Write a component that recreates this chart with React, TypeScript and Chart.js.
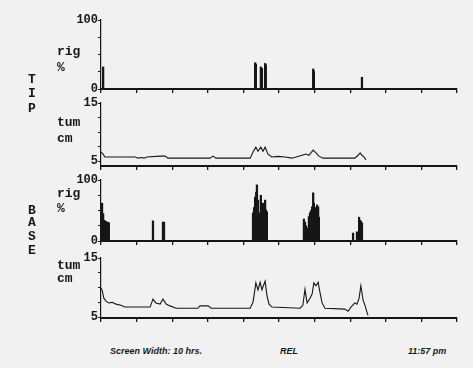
import React, { useEffect, useRef } from "react";
import { Chart, registerables } from "chart.js";
Chart.register(...registerables);

// x positions are hours from the start of the 10 hour screen
const tipRigHours = [0.06, 4.33, 4.35, 4.49, 4.52, 4.61, 4.63, 5.96, 5.98, 7.33];
const tipRigValues = [32, 38, 36, 32, 30, 37, 35, 29, 26, 17];

const tipTumHours = [0, 0.06, 0.11, 0.96, 1.04, 1.12, 1.21, 1.29, 1.66, 1.8, 1.88, 3.06, 3.15, 3.23, 4.19, 4.27, 4.35, 4.41, 4.49, 4.55, 4.61, 4.69, 4.8, 4.97, 5.17, 5.36, 5.65, 5.76, 5.84, 5.96, 6.04, 6.12, 6.24, 7.13, 7.22, 7.28, 7.33, 7.39, 7.44];
const tipTumValues = [6.55, 6.2, 5.7, 5.7, 5.5, 5.6, 5.5, 5.7, 5.85, 5.85, 5.5, 5.5, 5.85, 5.5, 5.5, 6.55, 7.4, 6.7, 7.4, 6.7, 7.4, 6.2, 5.7, 5.8, 5.7, 5.5, 6.0, 6.2, 6.0, 6.9, 6.4, 5.85, 5.5, 5.5, 6.0, 6.4, 6.0, 5.7, 5.2];

const baseRigHours = [0.03, 0.06, 0.08, 0.11, 0.14, 0.17, 0.2, 0.22, 1.46, 1.74, 1.77, 4.27, 4.3, 4.33, 4.36, 4.38, 4.41, 4.44, 4.47, 4.49, 4.52, 4.55, 4.58, 4.61, 4.63, 4.66, 5.7, 5.73, 5.76, 5.79, 5.84, 5.87, 5.9, 5.93, 5.96, 5.98, 6.01, 6.04, 6.07, 6.1, 6.12, 7.08, 7.19, 7.25, 7.28, 7.3, 7.33];
const baseRigValues = [62, 45, 34, 33, 32, 31, 30, 30, 33, 31, 31, 46, 55, 72, 80, 92, 67, 46, 34, 75, 51, 62, 58, 67, 51, 48, 36, 31, 25, 21, 40, 46, 50, 56, 79, 62, 55, 51, 59, 56, 39, 13, 15, 39, 34, 32, 30];

const baseTumHours = [0, 0.03, 0.08, 0.14, 0.22, 0.31, 0.42, 0.56, 0.67, 1.38, 1.46, 1.54, 1.66, 1.74, 1.83, 1.94, 2.11, 2.72, 2.78, 3.01, 3.09, 4.19, 4.27, 4.35, 4.41, 4.47, 4.52, 4.61, 4.66, 4.72, 4.8, 5.59, 5.67, 5.73, 5.79, 5.87, 5.93, 5.98, 6.04, 6.1, 6.15, 6.21, 6.29, 6.85, 6.94, 7.02, 7.13, 7.19, 7.25, 7.3, 7.36, 7.42, 7.47, 7.5];
const baseTumValues = [9.9, 9.6, 8.2, 7.7, 7.4, 7.5, 7.2, 7.0, 6.7, 6.7, 8.05, 7.4, 7.2, 8.05, 7.2, 6.9, 6.5, 6.5, 6.9, 6.9, 6.5, 6.5, 7.5, 10.8, 9.6, 10.9, 9.6, 11.1, 8.7, 7.2, 6.7, 6.5, 7.0, 9.7, 7.4, 8.2, 8.9, 10.8, 10.3, 10.9, 9.2, 7.4, 6.5, 6.35, 6.0, 6.7, 7.4, 7.2, 8.2, 10.3, 7.9, 6.9, 5.85, 5.3];

const hourTicks = [0, 1, 2, 3, 4, 5, 6, 7, 8, 9, 10];
const rigTicks = [0, 25, 50, 75, 100];
const rigLabels = ["0", "100"];
const tumTicks = [5, 7.5, 10, 12.5, 15];
const tumLabels = ["5", "15"];

const INK = "#161616";
const BG = "#f1f1f1";
const PAD_TOP = 12;
const X_AXIS_H = 8;
const LEFT = 101;
const RIGHT_PAD = 473 - 457;

type PanelProps = {
  top: number;
  bottom: number;
  kind: "rig" | "tum";
  hours: number[];
  values: number[];
  yMin: number;
  yMax: number;
};

function Panel({ top, bottom, kind, hours, values, yMin, yMax }: PanelProps) {
  const ref = useRef<HTMLCanvasElement | null>(null);
  const height = bottom - top + PAD_TOP + X_AXIS_H;
  useEffect(() => {
    if (!ref.current) return;
    const data = hours.map((h, i) => ({ x: h, y: values[i] }));
    const ticks = kind === "rig" ? rigTicks : tumTicks;
    const labels = kind === "rig" ? rigLabels : tumLabels;
    const chart = new Chart(ref.current, {
      type: kind === "rig" ? "bar" : "line",
      data: {
        datasets: [
          kind === "rig"
            ? {
                data,
                backgroundColor: INK,
                borderWidth: 0,
                barThickness: 1.6,
              }
            : {
                data,
                borderColor: INK,
                borderWidth: 1.1,
                pointRadius: 0,
                tension: 0,
                fill: false,
              },
        ] as any,
      },
      options: {
        animation: false,
        responsive: false,
        maintainAspectRatio: false,
        layout: { padding: { top: PAD_TOP, left: 0, right: RIGHT_PAD, bottom: 0 } },
        plugins: { legend: { display: false }, tooltip: { enabled: false } },
        scales: {
          x: {
            type: "linear",
            min: 0,
            max: 10,
            offset: false,
            afterBuildTicks: (s: any) => {
              s.ticks = hourTicks.map((v) => ({ value: v }));
            },
            afterFit: (s: any) => {
              s.height = X_AXIS_H;
            },
            ticks: { display: false },
            grid: {
              drawOnChartArea: false,
              drawTicks: true,
              tickLength: 4,
              color: INK,
              lineWidth: 1.3,
              offset: false,
            },
            border: { display: true, color: INK, width: 2 },
          },
          y: {
            type: "linear",
            min: yMin,
            max: yMax,
            afterBuildTicks: (s: any) => {
              s.ticks = ticks.map((v) => ({ value: v }));
            },
            afterFit: (s: any) => {
              s.width = LEFT;
            },
            ticks: {
              autoSkip: false,
              padding: 0,
              color: INK,
              font: { family: "'Liberation Mono', 'DejaVu Sans Mono', monospace", weight: "bold", size: 12 },
              callback: (v: any) => {
                const s = String(v);
                return labels.includes(s) ? s : "";
              },
            },
            grid: {
              drawOnChartArea: false,
              drawTicks: true,
              tickLength: 3,
              color: INK,
              lineWidth: 1,
            },
            border: { display: true, color: INK, width: 1.2 },
          },
        },
      } as any,
    });
    return () => chart.destroy();
  }, []);
  return (
    <canvas
      ref={ref}
      width={473}
      height={height}
      style={{ position: "absolute", left: 0, top: top - PAD_TOP, width: 473, height }}
    />
  );
}

const mono: React.CSSProperties = {
  position: "absolute",
  fontFamily: "'Liberation Mono', 'DejaVu Sans Mono', monospace",
  fontWeight: "bold",
  fontSize: 13,
  lineHeight: "13px",
  color: INK,
  whiteSpace: "pre",
};

const foot: React.CSSProperties = {
  position: "absolute",
  fontFamily: "'Liberation Sans', Arial, sans-serif",
  fontStyle: "italic",
  fontWeight: "bold",
  fontSize: 9,
  lineHeight: "11px",
  color: "#1a1a1a",
  whiteSpace: "pre",
};

function Label({ text, left, top, style }: { text: string; left: number; top: number; style: React.CSSProperties }) {
  return <div style={{ ...style, left, top }}>{text}</div>;
}

export default function App() {
  useEffect(() => {
    document.body.style.margin = "0";
    document.body.style.background = BG;
  }, []);
  return (
    <div style={{ position: "absolute", left: 0, top: 0, width: 473, height: 368, background: BG, overflow: "hidden" }}>
      <Panel top={20} bottom={89} kind="rig" hours={tipRigHours} values={tipRigValues} yMin={0} yMax={100} />
      <Panel top={103} bottom={166} kind="tum" hours={tipTumHours} values={tipTumValues} yMin={4.15} yMax={15} />
      <Panel top={180} bottom={241} kind="rig" hours={baseRigHours} values={baseRigValues} yMin={0} yMax={100} />
      <Panel top={258} bottom={318} kind="tum" hours={baseTumHours} values={baseTumValues} yMin={4.85} yMax={15} />

      <Label text="T" left={28} top={73} style={mono} />
      <Label text="I" left={28} top={87} style={mono} />
      <Label text="P" left={28} top={102} style={mono} />

      <Label text="B" left={28} top={204} style={mono} />
      <Label text="A" left={28} top={216} style={mono} />
      <Label text="S" left={28} top={230} style={mono} />
      <Label text="E" left={28} top={244} style={mono} />

      <Label text="rig" left={57} top={45} style={mono} />
      <Label text="%" left={57} top={61} style={mono} />
      <Label text="tum" left={57} top={116} style={mono} />
      <Label text="cm" left={57} top={132} style={mono} />
      <Label text="rig" left={57} top={187} style={mono} />
      <Label text="%" left={57} top={202} style={mono} />
      <Label text="tum" left={57} top={259} style={mono} />
      <Label text="cm" left={57} top={272} style={mono} />

      <Label text="Screen Width: 10 hrs." left={110} top={346} style={foot} />
      <Label text="REL" left={280} top={346} style={foot} />
      <Label text="11:57 pm" left={408} top={346} style={foot} />
    </div>
  );
}
